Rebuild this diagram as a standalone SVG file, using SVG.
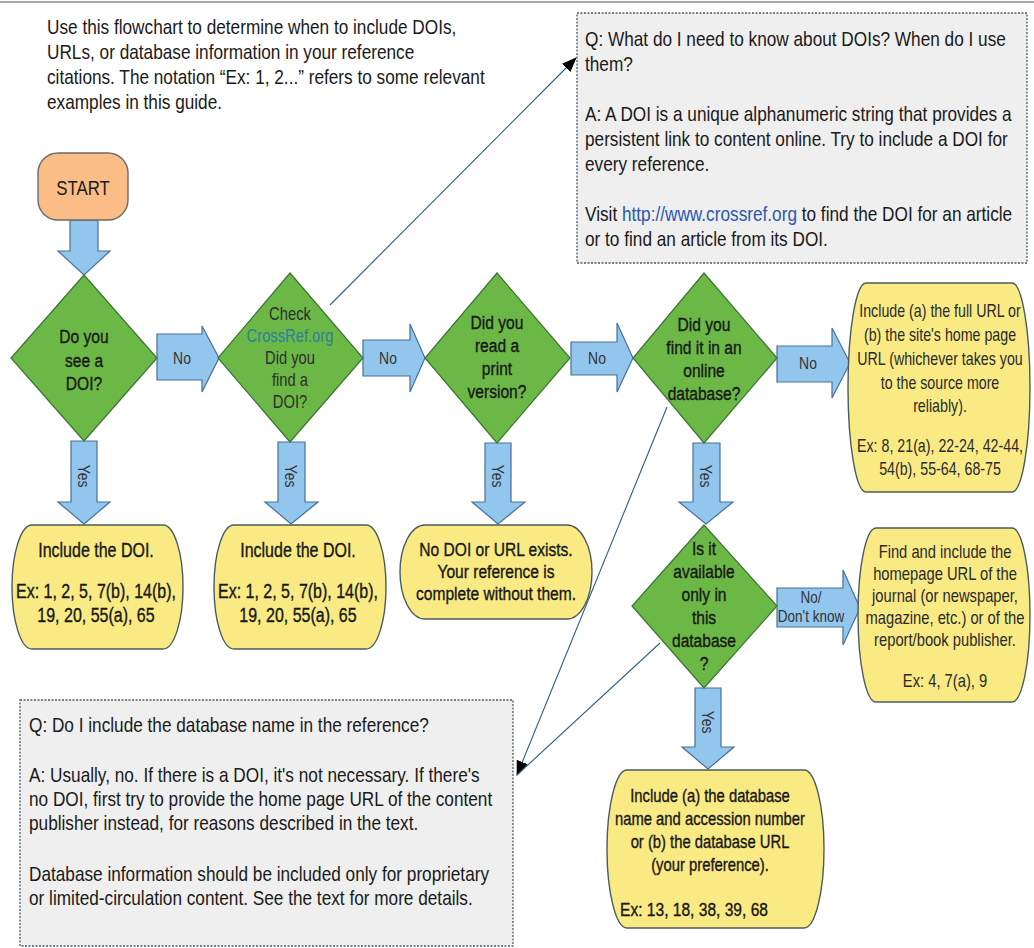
<svg xmlns="http://www.w3.org/2000/svg" width="1034" height="948" viewBox="0 0 1034 948">
<defs>
<style>
.t{font-family:"Liberation Sans",Arial,sans-serif;fill:#1a1a1a}
.c{text-anchor:middle}
.heavy{stroke:#111;stroke-width:0.35}
.q{font-size:21px}
.n{font-size:19px}
.s{font-size:18px}
.lbl{font-size:17px;fill:#333}
.diamond{fill:#6cb846;stroke:#3b7434;stroke-width:1.2}
.term{fill:#f9ea84;stroke:#4b5c5c;stroke-width:1.4}
.start{fill:#f9bd85;stroke:#6a6a6a;stroke-width:1.4}
.barrow{fill:#93c6ec;stroke:#47709a;stroke-width:1.2}
.qbox{fill:#efefef;stroke:#4a5a66;stroke-width:1.3;stroke-dasharray:2 1.5}
.conn{stroke:#2d5f80;stroke-width:1.1;fill:none}
</style>
<marker id="ah" markerWidth="15" markerHeight="12" refX="14" refY="6" orient="auto" markerUnits="userSpaceOnUse">
<path d="M0,0 L15,6 L0,12 Z" fill="#000"/>
</marker>
</defs>
<rect width="1034" height="948" fill="#fff"/>
<line x1="0" y1="2" x2="1034" y2="2" stroke="#a8a8a8" stroke-width="2"/>

<g id="intro">
<text class="t q" transform="translate(47,0) scale(0.82,1)">
<tspan x="0" y="34">Use this flowchart to determine when to include DOIs,</tspan>
<tspan x="0" y="59">URLs, or database information in your reference</tspan>
<tspan x="0" y="84">citations. The notation “Ex: 1, 2...” refers to some relevant</tspan>
<tspan x="0" y="109">examples in this guide.</tspan>
</text>
</g>

<g id="q-doi">
<rect class="qbox" x="577" y="13" width="450" height="250"/>
<text class="t q" transform="translate(585,0) scale(0.82,1)">
<tspan x="0" y="46">Q: What do I need to know about DOIs? When do I use</tspan>
<tspan x="0" y="71">them?</tspan>
<tspan x="0" y="121">A: A DOI is a unique alphanumeric string that provides a</tspan>
<tspan x="0" y="146">persistent link to content online. Try to include a DOI for</tspan>
<tspan x="0" y="171">every reference.</tspan>
<tspan x="0" y="221">Visit <tspan fill="#2a58b0">http://www.crossref.org</tspan> to find the DOI for an article</tspan>
<tspan x="0" y="246">or to find an article from its DOI.</tspan>
</text>
</g>

<g id="q-db">
<rect class="qbox" x="20" y="700" width="493" height="246"/>
<text class="t q" transform="translate(29,0) scale(0.82,1)">
<tspan x="0" y="732">Q: Do I include the database name in the reference?</tspan>
<tspan x="0" y="782">A: Usually, no. If there is a DOI, it's not necessary. If there's</tspan>
<tspan x="0" y="806">no DOI, first try to provide the home page URL of the content</tspan>
<tspan x="0" y="830">publisher instead, for reasons described in the text.</tspan>
<tspan x="0" y="881">Database information should be included only for proprietary</tspan>
<tspan x="0" y="905">or limited-circulation content. See the text for more details.</tspan>
</text>
</g>

<g id="connectors">
<path class="barrow" d="M70,220 H98 V251 H110 L84,275 L58,251 H70 Z"/>
<path class="barrow" d="M157,334 H202 V326 L219,358 L202,392 V380 H157 Z"/>
<text class="t c lbl" transform="translate(182,0) scale(0.82,1)" x="0" y="364">No</text>
<path class="barrow" d="M363,340 H410 V324 L425,358 L410,392 V376 H363 Z"/>
<text class="t c lbl" transform="translate(388,0) scale(0.82,1)" x="0" y="364">No</text>
<path class="barrow" d="M571,342 H617 V323 L633,358 L617,392 V375 H571 Z"/>
<text class="t c lbl" transform="translate(597,0) scale(0.82,1)" x="0" y="364">No</text>
<path class="barrow" d="M777,346 H832 V328 L850,363 L832,398 V382 H777 Z"/>
<text class="t c lbl" transform="translate(808,0) scale(0.82,1)" x="0" y="369">No</text>
<path class="barrow" d="M777,588 H843 V570 L860,608 L843,645 V627 H777 Z"/>
<text class="t c" style="font-size:16.5px;fill:#333" transform="translate(811,0) scale(0.82,1)"><tspan x="0" y="603">No/</tspan><tspan x="0" y="622">Don't know</tspan></text>

<path class="barrow" d="M71,441 H97 V502 H110 L84,524 L58,502 H71 Z"/>
<text class="t c lbl" transform="translate(84,476) rotate(90) scale(0.82,1)" x="0" y="6">Yes</text>
<path class="barrow" d="M278,442 H305 V502 H318 L291,524 L265,502 H278 Z"/>
<text class="t c lbl" transform="translate(291,476) rotate(90) scale(0.82,1)" x="0" y="6">Yes</text>
<path class="barrow" d="M485,443 H511 V502 H525 L498,524 L472,502 H485 Z"/>
<text class="t c lbl" transform="translate(498,476) rotate(90) scale(0.82,1)" x="0" y="6">Yes</text>
<path class="barrow" d="M693,443 H720 V502 H733 L706,524 L679,502 H693 Z"/>
<text class="t c lbl" transform="translate(706,476) rotate(90) scale(0.82,1)" x="0" y="6">Yes</text>
<path class="barrow" d="M695,688 H721 V747 H734 L708,769 L682,747 H695 Z"/>
<text class="t c lbl" transform="translate(708,722) rotate(90) scale(0.82,1)" x="0" y="6">Yes</text>

<line class="conn" x1="330" y1="305" x2="576" y2="58" marker-end="url(#ah)"/>
<line class="conn" x1="667" y1="407" x2="517" y2="775" marker-end="url(#ah)"/>
<line class="conn" x1="660" y1="643" x2="517" y2="775"/>
</g>

<g id="start">
<rect class="start" x="38" y="153" width="90" height="67" rx="20"/>
<text class="t c" style="font-size:20.5px" transform="translate(83,0) scale(0.82,1)" x="0" y="195">START</text>
</g>

<g id="d-see-doi">
<polygon class="diamond" points="84,275 157,358 84,441 11,358"/>
<text class="t c n heavy" transform="translate(84,0) scale(0.82,1)"><tspan x="0" y="343">Do you</tspan><tspan x="0" y="367">see a</tspan><tspan x="0" y="390">DOI?</tspan></text>
</g>

<g id="d-crossref">
<polygon class="diamond" points="290,273 363,358 290,442 218,358"/>
<text class="t c s" style="fill:#2e2e2e" transform="translate(290,0) scale(0.82,1)"><tspan x="0" y="320">Check</tspan><tspan x="0" y="342" style="fill:#2a7f9e">CrossRef.org</tspan><tspan x="0" y="364">Did you</tspan><tspan x="0" y="386">find a</tspan><tspan x="0" y="408">DOI?</tspan></text>
</g>

<g id="d-print">
<polygon class="diamond" points="497,273 570,358 497,443 425,358"/>
<text class="t c n heavy" transform="translate(497,0) scale(0.82,1)"><tspan x="0" y="329">Did you</tspan><tspan x="0" y="352">read a</tspan><tspan x="0" y="375">print</tspan><tspan x="0" y="398">version?</tspan></text>
</g>

<g id="d-online">
<polygon class="diamond" points="704,273 777,358 704,443 633,358"/>
<text class="t c n heavy" transform="translate(704,0) scale(0.82,1)"><tspan x="0" y="331">Did you</tspan><tspan x="0" y="354">find it in an</tspan><tspan x="0" y="377">online</tspan><tspan x="0" y="400">database?</tspan></text>
</g>

<g id="d-only">
<polygon class="diamond" points="704,525 777,606 704,688 632,606"/>
<text class="t c n heavy" transform="translate(704,0) scale(0.82,1)"><tspan x="0" y="555">Is it</tspan><tspan x="0" y="578">available</tspan><tspan x="0" y="601">only in</tspan><tspan x="0" y="624">this</tspan><tspan x="0" y="647">database</tspan><tspan x="0" y="670">?</tspan></text>
</g>

<g id="t-doi-1">
<path class="term" d="M32,525 H163 A20,62 0 0 1 163,649 H32 A20,62 0 0 1 32,525 Z"/>
<text class="t c heavy" style="font-size:19.5px" transform="translate(96,0) scale(0.82,1)"><tspan x="0" y="557">Include the DOI.</tspan><tspan x="0" y="598">Ex: 1, 2, 5, 7(b), 14(b),</tspan><tspan x="0" y="622">19, 20, 55(a), 65</tspan></text>
</g>

<g id="t-doi-2">
<path class="term" d="M234,525 H366 A20,62 0 0 1 366,649 H234 A20,62 0 0 1 234,525 Z"/>
<text class="t c heavy" style="font-size:19.5px" transform="translate(298,0) scale(0.82,1)"><tspan x="0" y="557">Include the DOI.</tspan><tspan x="0" y="598">Ex: 1, 2, 5, 7(b), 14(b),</tspan><tspan x="0" y="622">19, 20, 55(a), 65</tspan></text>
</g>

<g id="t-none">
<path class="term" d="M425,525 H567 A25,47 0 0 1 567,619 H425 A25,47 0 0 1 425,525 Z"/>
<text class="t c heavy" style="font-size:19px" transform="translate(496,0) scale(0.82,1)"><tspan x="0" y="556">No DOI or URL exists.</tspan><tspan x="0" y="578">Your reference is</tspan><tspan x="0" y="600">complete without them.</tspan></text>
</g>

<g id="t-url">
<path class="term" d="M866,283 H1012 A18,104.5 0 0 1 1012,492 H866 A18,104.5 0 0 1 866,283 Z"/>
<text class="t c s" style="fill:#2a2a2a" transform="translate(940,0) scale(0.79,1)"><tspan x="0" y="317">Include (a) the full URL or</tspan><tspan x="0" y="341">(b) the site's home page</tspan><tspan x="0" y="365">URL (whichever takes you</tspan><tspan x="0" y="389">to the source more</tspan><tspan x="0" y="412">reliably).</tspan><tspan x="0" y="452">Ex: 8, 21(a), 22-24, 42-44,</tspan><tspan x="0" y="475">54(b),  55-64, 68-75</tspan></text>
</g>

<g id="t-homepage">
<path class="term" d="M876,528 H1012 A18,87 0 0 1 1012,702 H876 A18,87 0 0 1 876,528 Z"/>
<text class="t c s" style="fill:#2a2a2a" transform="translate(945,0) scale(0.82,1)"><tspan x="0" y="558">Find and include the</tspan><tspan x="0" y="580">homepage URL of the</tspan><tspan x="0" y="602">journal (or newspaper,</tspan><tspan x="0" y="624">magazine, etc.) or of the</tspan><tspan x="0" y="646">report/book publisher.</tspan><tspan x="0" y="687">Ex: 4, 7(a), 9</tspan></text>
</g>

<g id="t-database">
<path class="term" d="M627,770 H804 A20,79 0 0 1 804,928 H627 A20,79 0 0 1 627,770 Z"/>
<text class="t c heavy" style="font-size:18.5px" transform="translate(710,0) scale(0.8,1)"><tspan x="0" y="802">Include (a) the database</tspan><tspan x="0" y="825">name and accession number</tspan><tspan x="0" y="848">or (b) the database URL</tspan><tspan x="0" y="871">(your preference).</tspan></text>
<text class="t n heavy" transform="translate(620,0) scale(0.82,1)" x="0" y="916">Ex: 13, 18, 38, 39, 68</text>
</g>
</svg>
